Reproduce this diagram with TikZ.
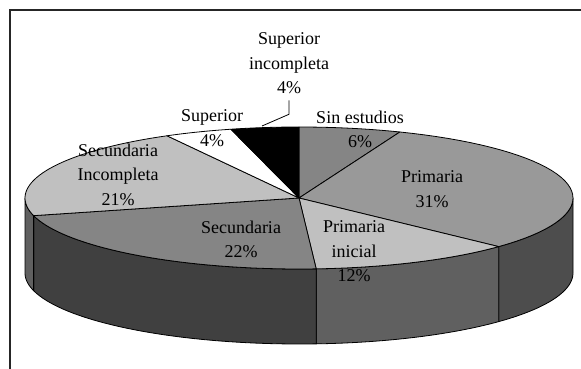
\documentclass[tikz,border=0pt]{standalone}
\usepackage{fontspec}
\setmainfont{Liberation Serif}
\definecolor{grisa}{HTML}{858585}
\definecolor{grisb}{HTML}{999999}
\definecolor{grisc}{HTML}{C0C0C0}
\definecolor{ladoa}{HTML}{404040}
\definecolor{ladob}{HTML}{4D4D4D}
\definecolor{ladoc}{HTML}{606060}

\begin{document}
\begin{tikzpicture}[x=1pt,y=-1pt,font=\fontsize{18}{24.5}\selectfont,
  rebanada/.style={draw=black, line width=0.8pt, line join=round},
  etiqueta/.style={align=center, inner sep=2pt}]
\useasboundingbox (0,0) rectangle (581,369);

\pgfmathsetmacro{\cx}{299}
\pgfmathsetmacro{\cy}{198}
\pgfmathsetmacro{\ejea}{274}
\pgfmathsetmacro{\ejeb}{71}
\pgfmathsetmacro{\alto}{75}
\coordinate (o) at (\cx,\cy);

% marco
\draw[line width=1.4pt, black!85] (10,369) -- (10,10) -- (581,10);

% paredes
\foreach \ini/\fin/\col in {0/-43.2/ladob, -43.2/-86.4/ladoc, -86.4/-165.6/ladoa, -165.6/-180/ladoc}
  \filldraw[rebanada, fill=\col] plot[domain=\ini:\fin, samples=40] ({\cx+\ejea*cos(\x)},{\cy-\ejeb*sin(\x)})
    -- plot[domain=\fin:\ini, samples=40] ({\cx+\ejea*cos(\x)},{\cy+\alto-\ejeb*sin(\x)}) -- cycle;

% tapa
\foreach \ini/\fin/\col in {90/68.4/grisa, 68.4/-43.2/grisb, -43.2/-86.4/grisc, -86.4/-165.6/grisa,
    -165.6/-241.2/grisc, -241.2/-255.6/white, -255.6/-270/black}
  \filldraw[rebanada, fill=\col] (o) -- plot[domain=\ini:\fin, samples=40] ({\cx+\ejea*cos(\x)},{\cy-\ejeb*sin(\x)}) -- cycle;

\node[etiqueta] (supinc) at (289,63.5) {Superior\\incompleta\\4\%};
\node[etiqueta] (sup) at (212,128) {Superior\\4\%};
\node[etiqueta] (sin) at (360,129.5) {Sin estudios\\6\%};
\node[etiqueta] (prim) at (432,189) {Primaria\\31\%};
\node[etiqueta] (primini) at (354,251.5) {Primaria\\inicial\\12\%};
\node[etiqueta] (sec) at (241,239.5) {Secundaria\\22\%};
\node[etiqueta] (secinc) at (118,174.5) {Secundaria\\Incompleta\\21\%};

\coordinate (negra) at (262,126);
\draw[line width=0.8pt] (supinc.south) ++(0,4) -- ++(0,14) -- (negra);

\end{tikzpicture}
\end{document}
